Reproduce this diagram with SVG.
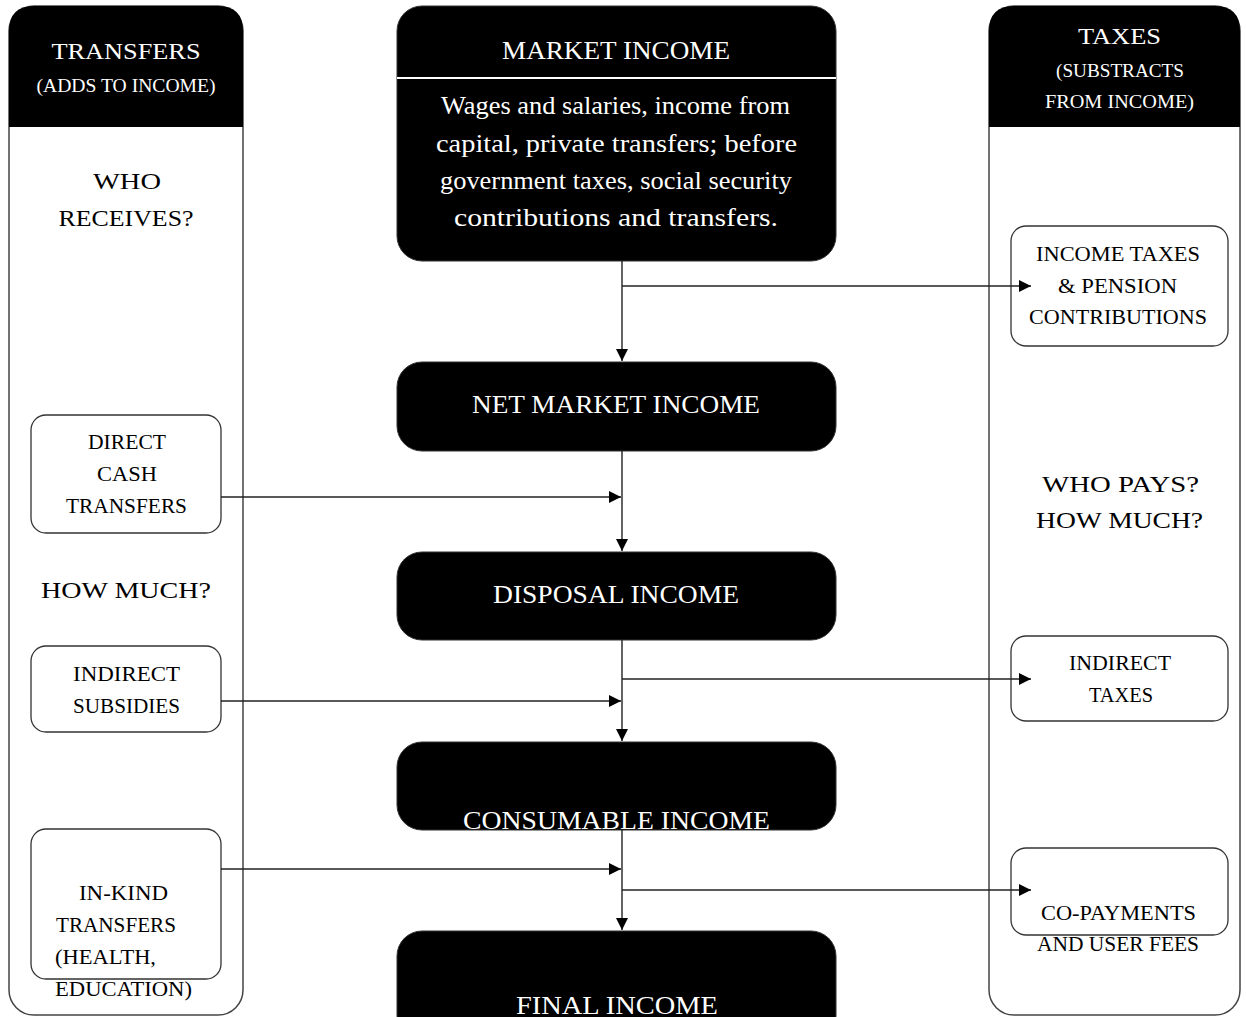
<svg xmlns="http://www.w3.org/2000/svg" width="1246" height="1017" viewBox="0 0 1246 1017">
<style>
text{font-family:"Liberation Serif","DejaVu Serif",serif;text-anchor:middle;}
.w{fill:#fff;}
.k{fill:#000;}
.h{font-size:25px;}
.s{font-size:18px;}
.b{font-size:21px;}
.q{font-size:24px;}
.col{fill:#fff;stroke:#444;stroke-width:1.5;}
.box{fill:#fff;stroke:#333;stroke-width:1.3;}
.blk{fill:#000;stroke:#333;stroke-width:1;}
.ln{fill:none;stroke:#222;stroke-width:1.4;}
</style>
<defs>
<marker id="ah" viewBox="0 0 10 10" refX="10" refY="5" markerWidth="15" markerHeight="12" markerUnits="userSpaceOnUse" orient="auto">
<path d="M0,0 L10,5 L0,10 Z" fill="#000"/>
</marker>
</defs>
<rect width="1246" height="1017" fill="#fff"/>

<g id="transfers-col">
<rect class="col" x="9" y="6" width="234" height="1009" rx="25"/>
<path d="M9,127 V31 Q9,6 34,6 H218 Q243,6 243,31 V127 Z" fill="#000"/>
<text class="w q" x="126" y="59" textLength="149" lengthAdjust="spacingAndGlyphs">TRANSFERS</text>
<text class="w s" x="126" y="92" textLength="179" lengthAdjust="spacingAndGlyphs">(ADDS TO INCOME)</text>
<text class="k q" x="127" y="189" textLength="68" lengthAdjust="spacingAndGlyphs">WHO</text>
<text class="k q" x="126" y="226" textLength="135" lengthAdjust="spacingAndGlyphs">RECEIVES?</text>
<text class="k q" x="126" y="598" textLength="170" lengthAdjust="spacingAndGlyphs">HOW MUCH?</text>
</g>

<g id="taxes-col">
<rect class="col" x="989" y="6" width="251" height="1009" rx="25"/>
<path d="M989,127 V31 Q989,6 1014,6 H1215 Q1240,6 1240,31 V127 Z" fill="#000"/>
<text class="w q" x="1119.5" y="44" textLength="83" lengthAdjust="spacingAndGlyphs">TAXES</text>
<text class="w s" x="1120" y="77" textLength="128" lengthAdjust="spacingAndGlyphs">(SUBSTRACTS</text>
<text class="w s" x="1119.5" y="108" textLength="149" lengthAdjust="spacingAndGlyphs">FROM INCOME)</text>
<text class="k q" x="1120.5" y="492" textLength="157" lengthAdjust="spacingAndGlyphs">WHO PAYS?</text>
<text class="k q" x="1119.5" y="528" textLength="167" lengthAdjust="spacingAndGlyphs">HOW MUCH?</text>
</g>

<g id="market-income">
<rect class="blk" x="397" y="6" width="439" height="255" rx="25"/>
<line x1="397" y1="78" x2="836" y2="78" stroke="#fff" stroke-width="2"/>
<text class="w h" x="616" y="59" textLength="228" lengthAdjust="spacingAndGlyphs">MARKET INCOME</text>
<text class="w h" x="615.5" y="114" textLength="349" lengthAdjust="spacingAndGlyphs">Wages and salaries, income from</text>
<text class="w h" x="616.5" y="152" textLength="361" lengthAdjust="spacingAndGlyphs">capital, private transfers; before</text>
<text class="w h" x="616" y="189" textLength="352" lengthAdjust="spacingAndGlyphs">government taxes, social security</text>
<text class="w h" x="616" y="226" textLength="324" lengthAdjust="spacingAndGlyphs">contributions and transfers.</text>
</g>

<g id="net-market-income">
<rect class="blk" x="397" y="362" width="439" height="89" rx="25"/>
<text class="w h" x="616" y="413" textLength="288" lengthAdjust="spacingAndGlyphs">NET MARKET INCOME</text>
</g>

<g id="disposal-income">
<rect class="blk" x="397" y="552" width="439" height="88" rx="25"/>
<text class="w h" x="616" y="603" textLength="246" lengthAdjust="spacingAndGlyphs">DISPOSAL INCOME</text>
</g>

<g id="consumable-income">
<rect class="blk" x="397" y="742" width="439" height="88" rx="25"/>
<text class="w h" x="616.5" y="829" textLength="307" lengthAdjust="spacingAndGlyphs">CONSUMABLE  INCOME</text>
</g>

<g id="final-income">
<rect class="blk" x="397" y="931" width="439" height="110" rx="25"/>
<text class="w h" x="617" y="1014" textLength="202" lengthAdjust="spacingAndGlyphs">FINAL INCOME</text>
</g>

<g id="direct-cash-transfers">
<rect class="box" x="31" y="415" width="190" height="118" rx="15"/>
<text class="k b" x="127" y="449" textLength="78" lengthAdjust="spacingAndGlyphs">DIRECT</text>
<text class="k b" x="127" y="481" textLength="60" lengthAdjust="spacingAndGlyphs">CASH</text>
<text class="k b" x="126.5" y="513" textLength="121" lengthAdjust="spacingAndGlyphs">TRANSFERS</text>
</g>

<g id="indirect-subsidies">
<rect class="box" x="31" y="646" width="190" height="86" rx="15"/>
<text class="k b" x="126.5" y="681" textLength="107" lengthAdjust="spacingAndGlyphs">INDIRECT</text>
<text class="k b" x="126.5" y="713" textLength="107" lengthAdjust="spacingAndGlyphs">SUBSIDIES</text>
</g>

<g id="in-kind-transfers">
<rect class="box" x="31" y="829" width="190" height="150" rx="15"/>
<text class="k b" x="123.5" y="900" textLength="89" lengthAdjust="spacingAndGlyphs">IN-KIND</text>
<text class="k b" x="116" y="932" textLength="120" lengthAdjust="spacingAndGlyphs">TRANSFERS</text>
<text class="k b" x="105.5" y="964" textLength="101" lengthAdjust="spacingAndGlyphs">(HEALTH,</text>
<text class="k b" x="123.5" y="996" textLength="137" lengthAdjust="spacingAndGlyphs">EDUCATION)</text>
</g>

<g id="income-taxes">
<rect class="box" x="1011" y="226" width="217" height="120" rx="15"/>
<text class="k b" x="1118" y="261" textLength="164" lengthAdjust="spacingAndGlyphs">INCOME TAXES</text>
<text class="k b" x="1117.5" y="293" textLength="119" lengthAdjust="spacingAndGlyphs">&amp; PENSION</text>
<text class="k b" x="1118" y="324" textLength="178" lengthAdjust="spacingAndGlyphs">CONTRIBUTIONS</text>
</g>

<g id="indirect-taxes">
<rect class="box" x="1011" y="636" width="217" height="85" rx="15"/>
<text class="k b" x="1120" y="670" textLength="102" lengthAdjust="spacingAndGlyphs">INDIRECT</text>
<text class="k b" x="1121" y="702" textLength="64" lengthAdjust="spacingAndGlyphs">TAXES</text>
</g>

<g id="co-payments">
<rect class="box" x="1011" y="848" width="217" height="87" rx="15"/>
<text class="k b" x="1118.5" y="920" textLength="155" lengthAdjust="spacingAndGlyphs">CO-PAYMENTS</text>
<text class="k b" x="1118" y="951" textLength="162" lengthAdjust="spacingAndGlyphs">AND USER FEES</text>
</g>

<g id="connectors">
<line class="ln" x1="622" y1="261" x2="622" y2="361" marker-end="url(#ah)"/>
<line class="ln" x1="622" y1="286" x2="1031" y2="286" marker-end="url(#ah)"/>
<line class="ln" x1="622" y1="451" x2="622" y2="551" marker-end="url(#ah)"/>
<line class="ln" x1="221" y1="497" x2="621" y2="497" marker-end="url(#ah)"/>
<line class="ln" x1="622" y1="640" x2="622" y2="741" marker-end="url(#ah)"/>
<line class="ln" x1="622" y1="679" x2="1031" y2="679" marker-end="url(#ah)"/>
<line class="ln" x1="221" y1="701" x2="621" y2="701" marker-end="url(#ah)"/>
<line class="ln" x1="622" y1="830" x2="622" y2="930" marker-end="url(#ah)"/>
<line class="ln" x1="221" y1="869" x2="621" y2="869" marker-end="url(#ah)"/>
<line class="ln" x1="622" y1="890" x2="1031" y2="890" marker-end="url(#ah)"/>
</g>
</svg>
